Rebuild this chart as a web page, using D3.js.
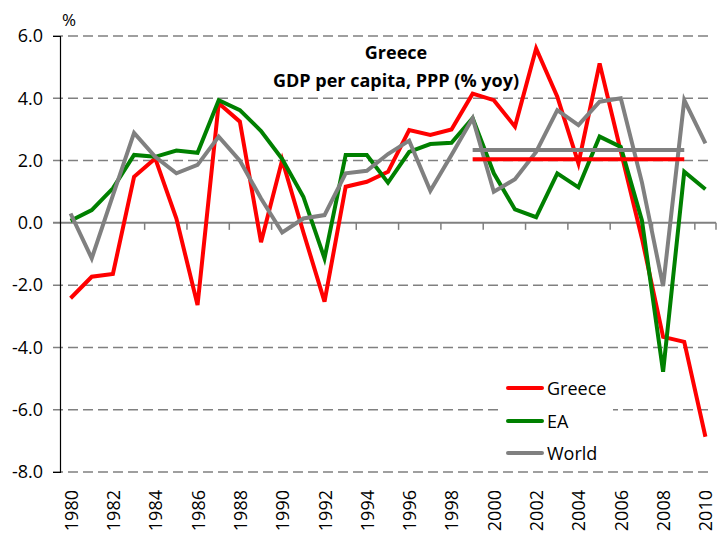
<!DOCTYPE html>
<html>
<head>
<meta charset="utf-8">
<script src="https://cdn.jsdelivr.net/npm/d3@7"></script>
<style>
  body { margin: 0; background: #fff; }
  svg { display: block; font-family: "Open Sans", sans-serif; }
</style>
</head>
<body>
<svg id="chart" width="724" height="533"></svg>
<script>
// data
const years = d3.range(1980, 2011);
const greece = [-2.42, -1.73, -1.64, 1.48, 2.07, 0.14, -2.64, 3.84, 3.25, -0.62,
                2.02, -0.3, -2.53, 1.16, 1.32, 1.64, 2.98, 2.82, 3.0, 4.15,
                3.94, 3.09, 5.6, 4.05, 1.91, 5.12, 2.3, -0.5, -3.66, -3.82, -6.87];
const ea = [0.07, 0.41, 1.11, 2.18, 2.12, 2.32, 2.25, 3.94, 3.62, 2.95,
            2.05, 0.84, -1.14, 2.18, 2.18, 1.29, 2.28, 2.53, 2.57, 3.36,
            1.59, 0.43, 0.18, 1.59, 1.14, 2.77, 2.44, 0.08, -4.78, 1.64, 1.08];
const world = [0.3, -1.14, 0.88, 2.89, 2.12, 1.59, 1.86, 2.77, 2.0, 0.78,
               -0.31, 0.14, 0.25, 1.59, 1.67, 2.21, 2.64, 1.03, 2.18, 3.36,
               1.0, 1.4, 2.28, 3.62, 3.14, 3.89, 4.0, 1.3, -2.03, 3.94, 2.55];
const avgYears = d3.range(1999, 2010);
const greeceAvg = 2.04;
const worldAvg = 2.34;
const yTicks = [-8, -6, -4, -2, 0, 2, 4, 6];
const seriesNames = ["Greece", "EA", "World"];
const seriesColors = ["#ff0000", "#008000", "#808080"];

let svg = d3.select("#chart");
let pad = {left: 60, right: 716, top: 36, bottom: 472};

let x = d3.scaleBand().domain(years).range([pad.left, pad.right]).padding(0);
let y = d3.scaleLinear().domain([-8, 6]).range([pad.bottom, pad.top]);
let cx = function(yr) { return x(yr) + x.bandwidth() / 2; };

// dashed gridlines
svg.append("g").selectAll("line.grid")
    .data(yTicks.filter(function(d) { return d != 0; }))
    .enter().append("line")
    .attr("x1", pad.left - 7).attr("x2", pad.right - 3)
    .attr("y1", function(d) { return y(d); })
    .attr("y2", function(d) { return y(d); })
    .style("stroke", "#808080")
    .style("stroke-width", 1.5)
    .style("stroke-dasharray", "10,5");

// zero line + ticks every two years
svg.append("line")
    .attr("x1", pad.left - 7).attr("x2", pad.right)
    .attr("y1", y(0)).attr("y2", y(0))
    .style("stroke", "#808080").style("stroke-width", 2);

svg.append("g").selectAll("line.xt")
    .data(years.filter(function(d, i) { return i % 2 == 0 && i > 0; }).concat([2011]))
    .enter().append("line")
    .attr("x1", function(d) { return pad.left + (d - 1980) * x.bandwidth(); })
    .attr("x2", function(d) { return pad.left + (d - 1980) * x.bandwidth(); })
    .attr("y1", y(0)).attr("y2", y(0) + 7)
    .style("stroke", "#808080").style("stroke-width", 1.5);

// y axis
let yAxis = d3.axisLeft(y).tickValues(yTicks).tickSize(7)
    .tickFormat(function(d) { return d.toFixed(1); });
let gY = svg.append("g").attr("transform", "translate(" + pad.left + ",0)").call(yAxis);
gY.select(".domain").style("stroke", "#000").style("stroke-width", 1.2);
gY.selectAll(".tick line").style("stroke", "none");
gY.selectAll("text").attr("font-family", "Open Sans").attr("font-size", "18px").attr("fill", "#000").attr("x", -17);

svg.append("text").attr("x", 62).attr("y", 26).text("%")
    .attr("font-size", "17px").attr("fill", "#000");

// x labels, rotated
svg.append("g").selectAll("text.xl")
    .data(years.filter(function(d, i) { return i % 2 == 0; }))
    .enter().append("text")
    .text(function(d) { return d; })
    .attr("font-size", "18px")
    .attr("fill", "#000")
    .attr("text-anchor", "end")
    .attr("dominant-baseline", "central")
    .attr("transform", function(d) { return "translate(" + cx(d) + ",490) rotate(-90)"; });

// title
svg.append("text").attr("x", 396).attr("y", 59).attr("text-anchor", "middle")
    .attr("font-weight", "bold").attr("font-size", "18px").text("Greece");
svg.append("text").attr("x", 396).attr("y", 87).attr("text-anchor", "middle")
    .attr("font-weight", "bold").attr("font-size", "18px").text("GDP per capita, PPP (% yoy)");

// lines
let line = d3.line()
    .x(function(d) { return cx(d[0]); })
    .y(function(d) { return y(d[1]); });

let allSeries = [greece, ea, world];
allSeries.forEach(function(s, i) {
    svg.append("path")
        .datum(years.map(function(yr, j) { return [yr, s[j]]; }))
        .attr("d", line)
        .style("fill", "none")
        .style("stroke", seriesColors[i])
        .style("stroke-width", 4)
        .style("stroke-linejoin", "miter");
});

[[worldAvg, "#808080"], [greeceAvg, "#ff0000"]].forEach(function(a) {
    svg.append("path")
        .datum(avgYears.map(function(yr) { return [yr, a[0]]; }))
        .attr("d", line)
        .style("fill", "none")
        .style("stroke", a[1])
        .style("stroke-width", 4);
});

// legend
let legend = svg.append("g");
legend.append("rect").attr("x", 498).attr("y", 370).attr("width", 115).attr("height", 100).style("fill", "#fff");
let legY = [388, 421, 453];
seriesNames.forEach(function(n, i) {
    legend.append("line")
        .attr("x1", 508).attr("x2", 542)
        .attr("y1", legY[i]).attr("y2", legY[i])
        .style("stroke", seriesColors[i]).style("stroke-width", 4)
        .style("stroke-linecap", "round");
    legend.append("text")
        .attr("x", 547).attr("y", legY[i])
        .attr("dominant-baseline", "central")
        .attr("font-size", "18px")
        .text(n);
});
</script>
</body>
</html>
